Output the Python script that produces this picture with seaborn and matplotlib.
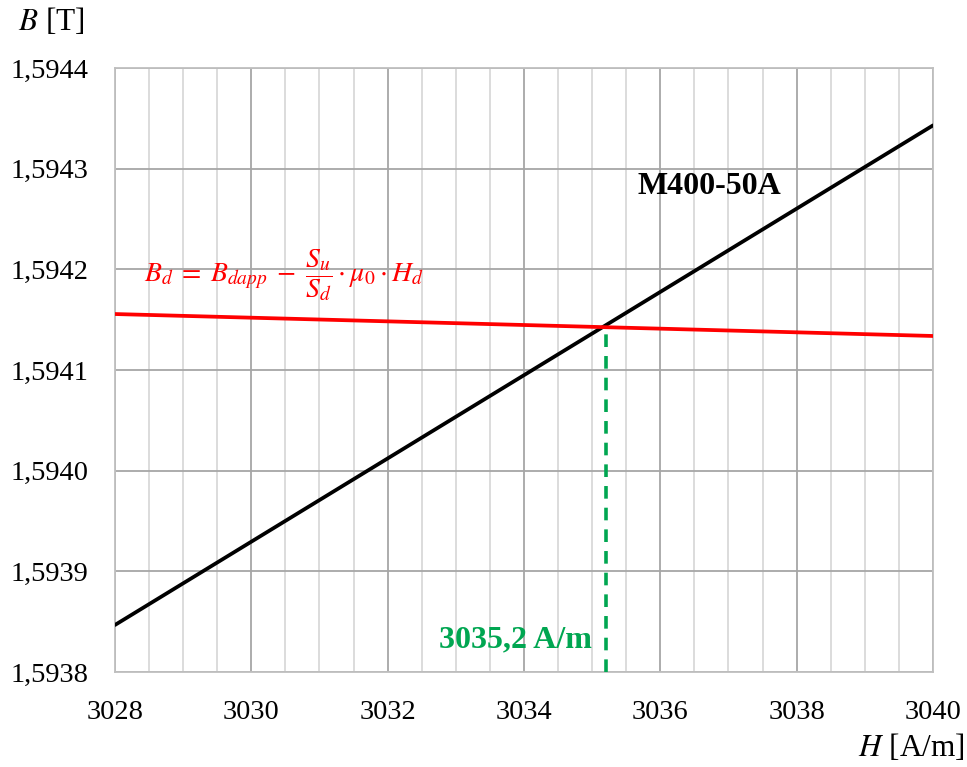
import matplotlib
matplotlib.use("Agg")
import matplotlib.pyplot as plt
from matplotlib.ticker import MultipleLocator, FuncFormatter
import seaborn as sns
import pandas as pd

# Magnetisation curve of M400-50A (linearised in this narrow window)
h_curve = [3028, 3040]
b_curve = [1.5938467, 1.5943430]

# Load line B_d = B_dapp - (S_u/S_d) * mu0 * H_d
h_load = [3028, 3040]
b_load = [1.5941556, 1.5941338]

# Operating point
h_op = 3035.2
b_op = 1.5941430
b_min = 1.5938

sns.set_theme(style="white")
plt.rcParams["font.family"] = ["Liberation Serif", "DejaVu Serif"]
plt.rcParams["mathtext.fontset"] = "stix"
plt.rcParams["text.color"] = "black"

fig = plt.figure(figsize=(9.67, 7.67), dpi=100)
ax = fig.add_axes([0.1189, 0.1239, 0.8459, 0.7874])

df_curve = pd.DataFrame({"H": h_curve, "B": b_curve})
df_load = pd.DataFrame({"H": h_load, "B": b_load})

sns.lineplot(data=df_curve, x="H", y="B", ax=ax, color="black", linewidth=2.7, zorder=4)
sns.lineplot(data=df_load, x="H", y="B", ax=ax, color="#ff0000", linewidth=2.7, zorder=4)
ax.plot([h_op, h_op], [b_min, b_op], color="#00a651", linewidth=2.6,
        linestyle=(0, (3.5, 2.5)), zorder=3)

ax.set_xlim(3028, 3040)
ax.set_ylim(1.5938, 1.5944)
ax.xaxis.set_major_locator(MultipleLocator(2))
ax.xaxis.set_minor_locator(MultipleLocator(0.5))
ax.yaxis.set_major_locator(MultipleLocator(0.0001))
ax.yaxis.set_major_formatter(FuncFormatter(lambda v, p: f"{v:.4f}".replace(".", ",")))
ax.xaxis.set_major_formatter(FuncFormatter(lambda v, p: f"{v:.0f}"))

ax.grid(which="major", color="#a6a6a6", linewidth=1.3)
ax.grid(which="minor", axis="x", color="#d9d9d9", linewidth=1.3)
ax.set_axisbelow(True)
for s in ax.spines.values():
    s.set_color("#bfbfbf")
    s.set_linewidth(1.3)
ax.tick_params(axis="both", which="both", length=0, labelsize=20.5, colors="black")
ax.tick_params(axis="x", pad=20)
ax.tick_params(axis="y", pad=19)

ax.set_xlabel("")
ax.set_ylabel("")
fig.text(0.019, 0.972, r"$\mathit{B}$ [T]", fontsize=22.5, color="black",
         ha="left", va="center")
fig.text(0.998, 0.025, r"$\mathit{H}$ [A/m]", fontsize=22.5, color="black",
         ha="right", va="center")

ax.text(3035.67, 1.594282, "M400-50A", fontsize=23, fontweight="bold", color="black",
        ha="left", va="center")
ax.text(3035.0, 1.593832, "3035,2 A/m", fontsize=23, fontweight="bold", color="#00a651",
        ha="right", va="center")
ax.text(3028.43, 1.594194,
        r"$B_d\;=\;B_{dapp}\;-\;\dfrac{S_u}{S_d}\cdot\mu_0\cdot H_d$",
        fontsize=20, color="#ff0000", ha="left", va="center")

fig.savefig("out.png", dpi=100)
